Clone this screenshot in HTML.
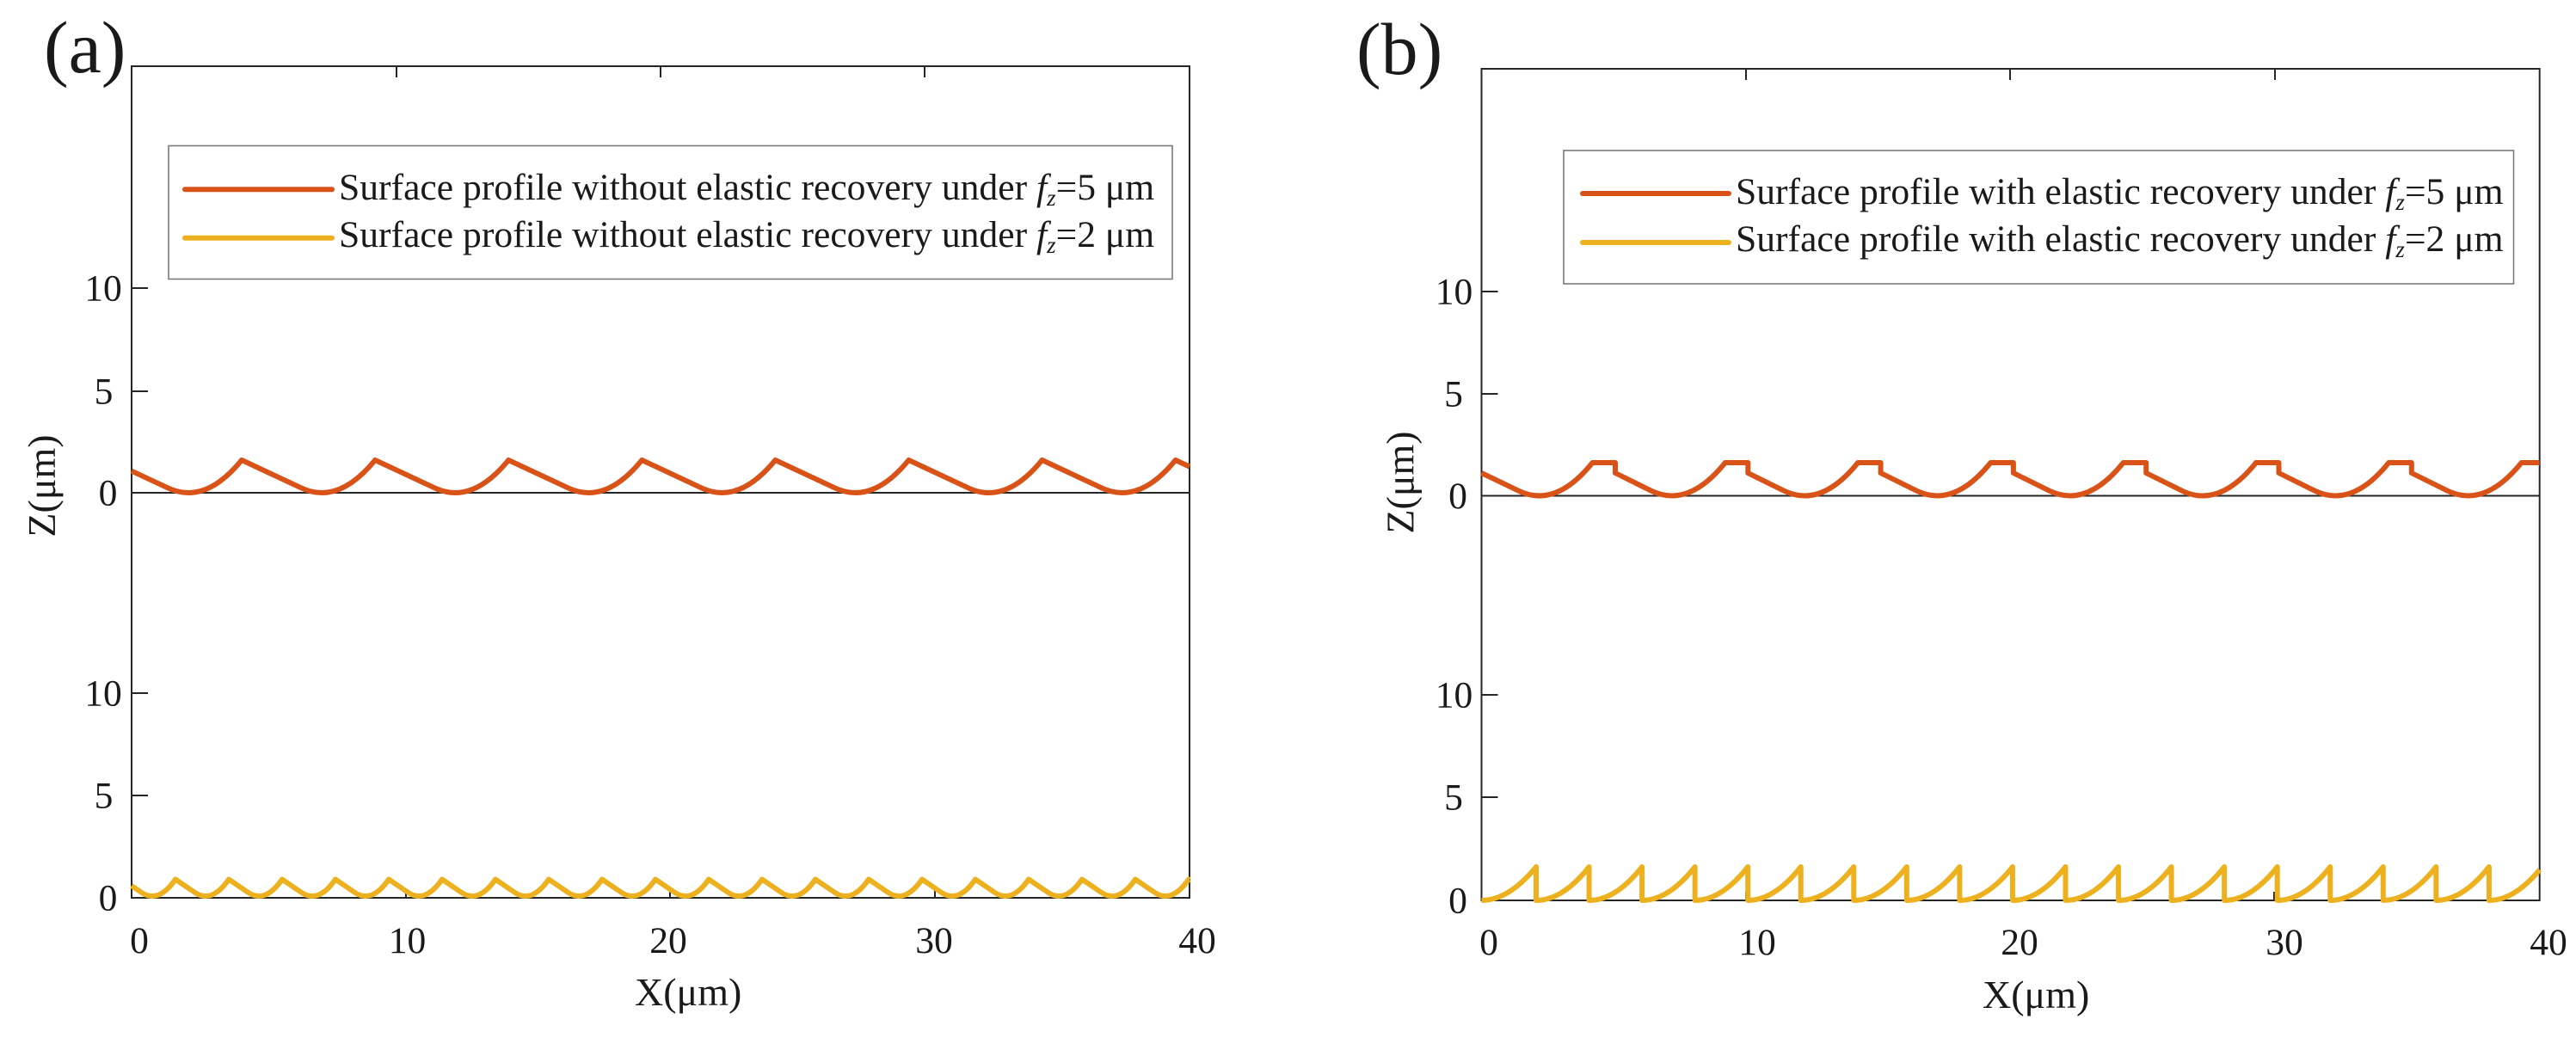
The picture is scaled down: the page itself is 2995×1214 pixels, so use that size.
<!DOCTYPE html>
<html>
<head>
<meta charset="utf-8">
<style>
html,body{margin:0;padding:0;background:#fff;width:2995px;height:1214px;overflow:hidden;}
svg{display:block;}
text{font-family:"Liberation Serif","Times New Roman",serif;fill:#1a1a1a;}
</style>
</head>
<body>
<svg width="2995" height="1214" viewBox="0 0 2995 1214" xmlns="http://www.w3.org/2000/svg">
<rect x="0" y="0" width="2995" height="1214" fill="#fff"/>

<!-- ================= PANEL (a) ================= -->
<text x="51" y="84" font-size="86">(a)</text>
<!-- axes box -->
<g stroke="#262626" stroke-width="2" fill="none">
  <rect x="153" y="77" width="1230" height="967"/>
  <line x1="153" y1="573" x2="1383" y2="573"/>
  <!-- left ticks -->
  <line x1="153" y1="335" x2="172" y2="335"/>
  <line x1="153" y1="455" x2="172" y2="455"/>
  <line x1="153" y1="806" x2="172" y2="806"/>
  <line x1="153" y1="925" x2="172" y2="925"/>
  <!-- top ticks -->
  <line x1="461" y1="77" x2="461" y2="90"/>
  <line x1="768" y1="77" x2="768" y2="90"/>
  <line x1="1075" y1="77" x2="1075" y2="90"/>
  <!-- bottom ticks -->
  <line x1="472" y1="1044" x2="472" y2="1034"/>
  <line x1="779" y1="1044" x2="779" y2="1034"/>
  <line x1="1087" y1="1044" x2="1087" y2="1034"/>
</g>
<!-- y tick labels -->
<g font-size="43.6" text-anchor="middle">
  <text x="120" y="349.5">10</text>
  <text x="120.5" y="469.5">5</text>
  <text x="125.5" y="587.5">0</text>
  <text x="120" y="820.5">10</text>
  <text x="120.5" y="939.5">5</text>
  <text x="125.5" y="1058.5">0</text>
  <!-- x tick labels -->
  <text x="162" y="1108">0</text>
  <text x="473.5" y="1108">10</text>
  <text x="777" y="1108">20</text>
  <text x="1086" y="1108">30</text>
  <text x="1392" y="1108">40</text>
</g>
<text x="738" y="1169" font-size="46">X(μm)</text>
<text transform="translate(64,565) rotate(-90)" font-size="46" text-anchor="middle">Z(μm)</text>

<!-- legend (a) -->
<rect x="196" y="169.5" width="1167" height="155" fill="#fff" stroke="#7a7a7a" stroke-width="1.6"/>
<line x1="215" y1="220.2" x2="386" y2="220.2" stroke="#D95319" stroke-width="6" stroke-linecap="round"/>
<line x1="215" y1="276.7" x2="386" y2="276.7" stroke="#EDB120" stroke-width="6" stroke-linecap="round"/>
<text x="394" y="232" font-size="43.6">Surface profile without elastic recovery under <tspan font-style="italic">f</tspan><tspan font-style="italic" font-size="27" dy="7">z</tspan><tspan dy="-7">=5 μm</tspan></text>
<text x="394" y="287" font-size="43.6">Surface profile without elastic recovery under <tspan font-style="italic">f</tspan><tspan font-style="italic" font-size="27" dy="7">z</tspan><tspan dy="-7">=2 μm</tspan></text>

<!-- curves (a) -->
<path fill="none" stroke="#D95319" stroke-width="6" stroke-linejoin="round" d="M153,547.7 L195.3,567.45 Q238.15,587.53 281,535 L350.4,567.45 Q393.25,587.53 436.1,535 L505.5,567.45 Q548.35,587.53 591.2,535 L660.6,567.45 Q703.45,587.53 746.3,535 L815.7,567.45 Q858.55,587.53 901.4,535 L970.8,567.45 Q1013.65,587.53 1056.5,535 L1125.9,567.45 Q1168.75,587.53 1211.6,535 L1281,567.45 Q1323.85,587.53 1366.7,535 L1383,542.6"/>
<path fill="none" stroke="#EDB120" stroke-width="6" stroke-linejoin="round" d="M153,1030 L164.28,1037.67 Q184.14,1051.19 204,1022.5 L226.28,1037.67 Q246.14,1051.19 266,1022.5 L288.28,1037.67 Q308.14,1051.19 328,1022.5 L350.28,1037.67 Q370.14,1051.19 390,1022.5 L412.28,1037.67 Q432.14,1051.19 452,1022.5 L474.28,1037.67 Q494.14,1051.19 514,1022.5 L536.28,1037.67 Q556.14,1051.19 576,1022.5 L598.28,1037.67 Q618.14,1051.19 638,1022.5 L660.28,1037.67 Q680.14,1051.19 700,1022.5 L722.28,1037.67 Q742.14,1051.19 762,1022.5 L784.28,1037.67 Q804.14,1051.19 824,1022.5 L846.28,1037.67 Q866.14,1051.19 886,1022.5 L908.28,1037.67 Q928.14,1051.19 948,1022.5 L970.28,1037.67 Q990.14,1051.19 1010,1022.5 L1032.28,1037.67 Q1052.14,1051.19 1072,1022.5 L1094.28,1037.67 Q1114.14,1051.19 1134,1022.5 L1156.28,1037.67 Q1176.14,1051.19 1196,1022.5 L1218.28,1037.67 Q1238.14,1051.19 1258,1022.5 L1280.28,1037.67 Q1300.14,1051.19 1320,1022.5 L1342.28,1037.67 Q1362.14,1051.19 1382,1022.5 L1383,1023"/>

<!-- ================= PANEL (b) ================= -->
<text x="1577" y="86" font-size="86">(b)</text>
<g stroke="#262626" stroke-width="2" fill="none">
  <rect x="1722.5" y="80" width="1230.2" height="967"/>
  <line x1="1722.5" y1="576.5" x2="2952.7" y2="576.5"/>
  <line x1="1722.5" y1="339" x2="1741.5" y2="339"/>
  <line x1="1722.5" y1="458" x2="1741.5" y2="458"/>
  <line x1="1722.5" y1="808" x2="1741.5" y2="808"/>
  <line x1="1722.5" y1="927" x2="1741.5" y2="927"/>
  <line x1="2030" y1="80" x2="2030" y2="93"/>
  <line x1="2337" y1="80" x2="2337" y2="93"/>
  <line x1="2645" y1="80" x2="2645" y2="93"/>
  <line x1="2030" y1="1047" x2="2030" y2="1037"/>
  <line x1="2338" y1="1047" x2="2338" y2="1037"/>
  <line x1="2644" y1="1047" x2="2644" y2="1037"/>
</g>
<g font-size="43.6" text-anchor="middle">
  <text x="1690.5" y="353.5">10</text>
  <text x="1690" y="472.5">5</text>
  <text x="1695" y="591">0</text>
  <text x="1690.5" y="822.5">10</text>
  <text x="1690" y="941.5">5</text>
  <text x="1695" y="1061.5">0</text>
  <text x="1731" y="1110">0</text>
  <text x="2043" y="1110">10</text>
  <text x="2348" y="1110">20</text>
  <text x="2656" y="1110">30</text>
  <text x="2963" y="1110">40</text>
</g>
<text x="2305" y="1172" font-size="46">X(μm)</text>
<text transform="translate(1643.5,561) rotate(-90)" font-size="46" text-anchor="middle">Z(μm)</text>

<!-- legend (b) -->
<rect x="1818" y="175" width="1104.5" height="155" fill="#fff" stroke="#7a7a7a" stroke-width="1.6"/>
<line x1="1840" y1="225" x2="2010" y2="225" stroke="#D95319" stroke-width="6" stroke-linecap="round"/>
<line x1="1840" y1="282" x2="2010" y2="282" stroke="#EDB120" stroke-width="6" stroke-linecap="round"/>
<text x="2018" y="237" font-size="43.6">Surface profile with elastic recovery under <tspan font-style="italic">f</tspan><tspan font-style="italic" font-size="27" dy="7">z</tspan><tspan dy="-7">=5 μm</tspan></text>
<text x="2018" y="292" font-size="43.6">Surface profile with elastic recovery under <tspan font-style="italic">f</tspan><tspan font-style="italic" font-size="27" dy="7">z</tspan><tspan dy="-7">=2 μm</tspan></text>

<!-- curves (b) -->
<path fill="none" stroke="#D95319" stroke-width="6" stroke-linejoin="round" d="M1722.5,550 L1764.73,570.36 Q1808.12,591.88 1851.5,538 L1878,538 L1878,550 L1919.03,570.36 Q1962.42,591.88 2005.8,538 L2032.3,538 L2032.3,550 L2073.33,570.36 Q2116.72,591.88 2160.1,538 L2186.6,538 L2186.6,550 L2227.63,570.36 Q2271.02,591.88 2314.4,538 L2340.9,538 L2340.9,550 L2381.93,570.36 Q2425.32,591.88 2468.7,538 L2495.2,538 L2495.2,550 L2536.23,570.36 Q2579.62,591.88 2623,538 L2649.5,538 L2649.5,550 L2690.53,570.36 Q2733.92,591.88 2777.3,538 L2803.8,538 L2803.8,550 L2844.83,570.36 Q2888.22,591.88 2931.6,538 L2952.7,538"/>
<path fill="none" stroke="#EDB120" stroke-width="6" stroke-linejoin="round" d="M1722.5,1047 Q1754.2,1047 1786,1008 L1786,1047 Q1816.78,1047 1847.55,1008 L1847.55,1047 Q1878.33,1047 1909.1,1008 L1909.1,1047 Q1939.88,1047 1970.65,1008 L1970.65,1047 Q2001.43,1047 2032.2,1008 L2032.2,1047 Q2062.98,1047 2093.75,1008 L2093.75,1047 Q2124.53,1047 2155.3,1008 L2155.3,1047 Q2186.08,1047 2216.85,1008 L2216.85,1047 Q2247.63,1047 2278.4,1008 L2278.4,1047 Q2309.18,1047 2339.95,1008 L2339.95,1047 Q2370.73,1047 2401.5,1008 L2401.5,1047 Q2432.28,1047 2463.05,1008 L2463.05,1047 Q2493.83,1047 2524.6,1008 L2524.6,1047 Q2555.38,1047 2586.15,1008 L2586.15,1047 Q2616.93,1047 2647.7,1008 L2647.7,1047 Q2678.48,1047 2709.25,1008 L2709.25,1047 Q2740.03,1047 2770.8,1008 L2770.8,1047 Q2801.58,1047 2832.35,1008 L2832.35,1047 Q2863.13,1047 2893.9,1008 L2893.9,1047 Q2923.3,1047 2952.7,1011.4"/>
</svg>
</body>
</html>
